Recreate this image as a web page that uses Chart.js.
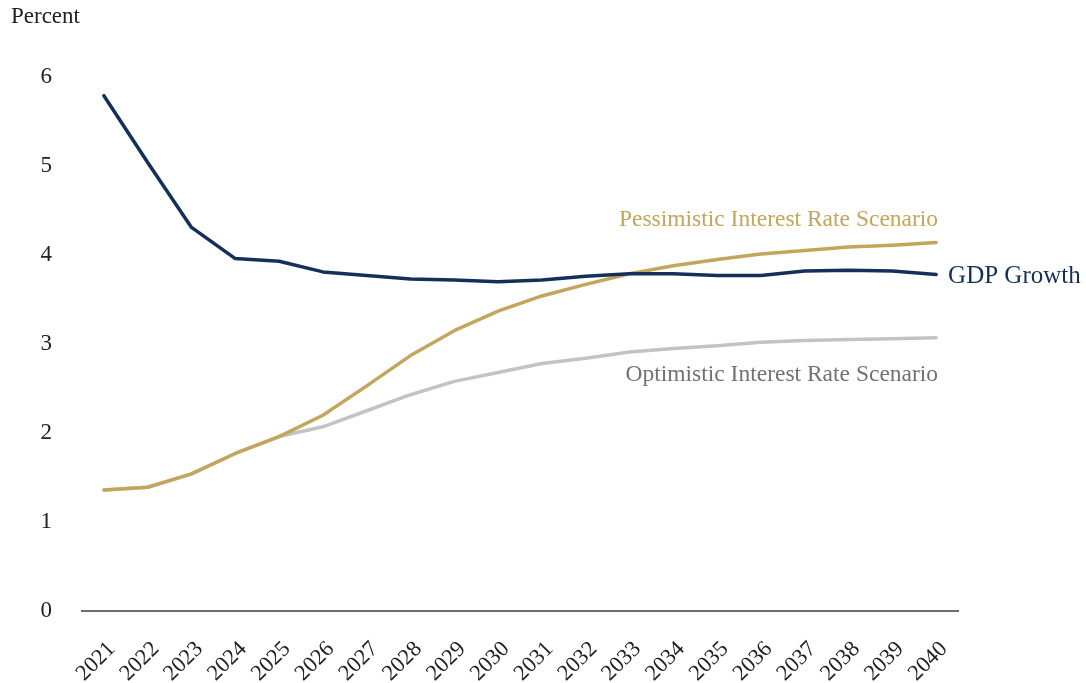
<!DOCTYPE html>
<html>
<head>
<meta charset="utf-8">
<script src="https://cdn.jsdelivr.net/npm/chart.js@4"></script>
<style>
  html, body { margin: 0; padding: 0; background: #fff; }
  #wrap { position: relative; width: 1086px; height: 683px; }
  #unit { position: absolute; left: 11px; top: 3px; font: 23px "Liberation Serif", serif; color: #222; }
</style>
</head>
<body>
<div id="wrap">
  <div id="unit">Percent</div>
  <canvas id="lineChart" width="1086" height="683"></canvas>
</div>
<script>
// Data
var years = ['2021','2022','2023','2024','2025','2026','2027','2028','2029','2030',
             '2031','2032','2033','2034','2035','2036','2037','2038','2039','2040'];
var gdpGrowth = [5.79, 5.04, 4.31, 3.96, 3.93, 3.81, 3.77, 3.73, 3.72, 3.70,
                 3.72, 3.76, 3.79, 3.79, 3.77, 3.77, 3.82, 3.83, 3.82, 3.78];
var pessimistic = [1.36, 1.39, 1.54, 1.77, 1.96, 2.20, 2.53, 2.87, 3.15, 3.37,
                   3.54, 3.67, 3.79, 3.88, 3.95, 4.01, 4.05, 4.09, 4.11, 4.14];
var optimistic = [1.36, 1.39, 1.54, 1.77, 1.96, 2.07, 2.25, 2.43, 2.58, 2.68,
                  2.78, 2.84, 2.91, 2.95, 2.98, 3.02, 3.04, 3.05, 3.06, 3.07];
var yTicks = [0, 1, 2, 3, 4, 5, 6];

var serif = '"Liberation Serif", serif';

// end-of-line labels, placed next to the last point of each line
var endLabels = {
    id: 'endLabels',
    afterDatasetsDraw: function(chart) {
        var ctx = chart.ctx;
        ctx.save();
        ctx.textBaseline = 'middle';
        chart.data.datasets.forEach(function(ds, i) {
            var meta = chart.getDatasetMeta(i);
            var pt = meta.data[meta.data.length - 1];
            ctx.font = ds.labelSize + 'px ' + serif;
            ctx.fillStyle = ds.labelColor;
            ctx.textAlign = ds.labelAlign;
            ctx.fillText(ds.label, pt.x + ds.labelDx, pt.y + ds.labelDy);
        });
        ctx.restore();
    }
};

var ctx = document.getElementById('lineChart').getContext('2d');
var chart = new Chart(ctx, {
    type: 'line',
    data: {
        labels: years,
        datasets: [{
            label: 'GDP Growth',
            data: gdpGrowth,
            borderColor: '#14305a',
            borderWidth: 3.5,
            labelSize: 25,
            labelColor: '#14305a', labelAlign: 'left', labelDx: 12, labelDy: 2
        }, {
            label: 'Pessimistic Interest Rate Scenario',
            data: pessimistic,
            borderColor: '#c4a55c',
            borderWidth: 3.5,
            labelSize: 23.5,
            labelColor: '#c4a55c', labelAlign: 'right', labelDx: 2, labelDy: -23
        }, {
            label: 'Optimistic Interest Rate Scenario',
            data: optimistic,
            borderColor: '#c3c3c7',
            borderWidth: 3.5,
            labelSize: 23.5,
            labelColor: '#727276', labelAlign: 'right', labelDx: 2, labelDy: 37
        }]
    },
    options: {
        responsive: false,
        animation: false,
        layout: { padding: { top: 77, right: 128, left: 0, bottom: 0 } },
        elements: {
            point: { radius: 0 },
            line: { tension: 0, borderCapStyle: 'round', borderJoinStyle: 'round' }
        },
        plugins: {
            legend: { display: false },
            tooltip: { enabled: false }
        },
        scales: {
            x: {
                offset: true,
                grid: { drawOnChartArea: false, drawTicks: false },
                border: { display: true, color: '#6e6e72', width: 2 },
                ticks: {
                    color: '#222',
                    font: { family: serif, size: 22.5 },
                    minRotation: 45,
                    maxRotation: 45,
                    padding: 25,
                    labelOffset: 8,
                    autoSkip: false
                },
                afterFit: function(scale) { scale.height = 72; }
            },
            y: {
                min: 0,
                max: 6,
                grid: { display: false, drawTicks: false },
                border: { display: false },
                afterBuildTicks: function(scale) {
                    scale.ticks = yTicks.map(function(v) { return { value: v }; });
                },
                ticks: {
                    color: '#222',
                    font: { family: serif, size: 23 },
                    padding: 30
                },
                afterFit: function(scale) { scale.width = 82; }
            }
        }
    },
    plugins: [endLabels]
});
</script>
</body>
</html>
